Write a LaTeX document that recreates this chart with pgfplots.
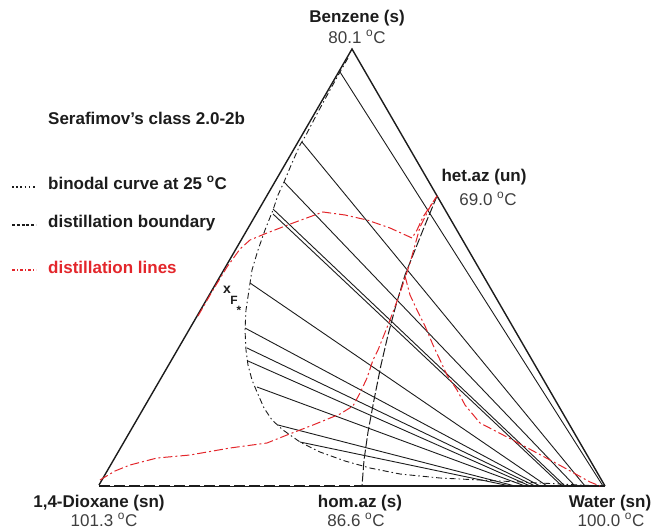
\documentclass[border=0pt]{standalone}
\usepackage{pgfplots}
\pgfplotsset{compat=1.18}
\usepackage{fontspec}
\setmainfont{Liberation Sans}
\definecolor{ink}{HTML}{1C1C1C}
\definecolor{dline}{HTML}{E3262B}
\tikzset{
  lab/.style={font=\fontsize{17}{20}\selectfont\bfseries, text=ink, inner sep=0pt},
  val/.style={font=\fontsize{17}{20}\selectfont, text=ink!85, inner sep=0pt},
  tie/.style={ink, line width=0.9pt},
  binodal/.style={ink, line width=0.9pt, dash pattern=on 6pt off 3pt on 1.5pt off 3pt},
  boundary/.style={ink, line width=1pt, dash pattern=on 9pt off 2.5pt},
  dist/.style={dline, line width=1pt, dash pattern=on 9pt off 3pt on 2pt off 3pt},
}
\begin{document}
\begin{tikzpicture}
\begin{axis}[
  width=653pt, height=530pt, scale only axis,
  xmin=0, xmax=653, ymin=0, ymax=530, y dir=reverse,
  hide axis, clip=false,
]
% keep the full frame as the page
\path (axis cs:0,0) rectangle (axis cs:653,530);

% triangle
\addplot[ink, line width=1.4pt] coordinates {(99,485) (352,49) (605,486)};
\addplot[ink, line width=1.2pt] coordinates {(362,486) (605,486)};
\addplot[ink, line width=0.8pt] coordinates {(99,486) (362,486)};
\addplot[ink, line width=2.4pt, dash pattern=on 11pt off 4pt] coordinates {(99,486) (362,486)};

% tie lines
\addplot[tie] coordinates {(340,72) (603,486)};
\addplot[tie] coordinates {(302,142) (585,486)};
\addplot[tie] coordinates {(284,182) (575,486)};
\addplot[tie] coordinates {(273,209) (565,486)};
\addplot[tie] coordinates {(273,214) (562,486)};
\addplot[tie] coordinates {(250,283) (547,486)};
\addplot[tie] coordinates {(245,328) (540,486)};
\addplot[tie] coordinates {(247,348) (535,486)};
\addplot[tie] coordinates {(248,361) (530,486)};
\addplot[tie] coordinates {(257,387) (525,486)};
\addplot[tie] coordinates {(278,425) (515,486)};
\addplot[tie] coordinates {(300,442) (510,486)};

% binodal curve
\addplot[binodal] coordinates {
 (348,58) (340,72) (330,90) (318,112) (306,135) (300,145) (292,163) (284,182)
 (278,195) (273,210) (265,230) (258,250) (252,270) (249,290) (246,310) (245,330)
 (246,350) (248,365) (252,380) (257,392) (264,408) (272,420) (283,430) (300,442)
 (320,452) (345,461) (370,468) (400,474) (440,478) (480,480) (520,482) (560,484) (600,486)};

% distillation boundary
\addplot[boundary] coordinates {
 (437,196) (425,225) (415,250) (405,275) (396,305) (388,335) (381,365)
 (374,400) (368,432) (364,460) (362,486)};

% distillation lines
\addplot[dist] coordinates {
 (100,480) (115,471) (130,465) (157,458) (190,455) (230,448) (267,443)
 (287,435) (313,425) (340,414) (353,406) (360,393) (367,378) (373,360)
 (378,350) (390,320) (400,293) (410,263) (420,227) (430,207) (437,196)};
\addplot[dist] coordinates {
 (198,316) (206,302) (213,290) (227,267) (240,249) (250,240) (267,233)
 (293,223) (323,212) (345,215) (367,220) (390,228) (412,238) (417,230)
 (423,217) (437,196)};
\addplot[dist] coordinates {
 (405,276) (410,295) (417,310) (425,326) (433,345) (440,360) (447,375)
 (457,390) (465,405) (480,423) (507,437) (537,453) (563,467) (590,482) (600,486)};

% legend samples
\addplot[ink, line width=1.6pt, dash pattern=on 1.6pt off 2.6pt] coordinates {(12,187) (36,187)};
\addplot[ink, line width=1.2pt, dash pattern=on 3pt off 1.8pt] coordinates {(12,225) (36,225)};
\addplot[dline, line width=1.2pt, dash pattern=on 3pt off 2pt on 1pt off 2pt] coordinates {(12,270) (36,270)};

% legend texts
\node[lab, anchor=west] at (axis cs:48,118) {Serafimov's class 2.0-2b};
\node[lab, anchor=west] at (axis cs:48,183) {binodal curve at 25 \textsuperscript{o}C};
\node[lab, anchor=west] at (axis cs:48,223) {distillation boundary};
\node[lab, anchor=west, text=dline] at (axis cs:48,267) {distillation lines};

% vertex labels
\node[lab] at (axis cs:357,18) {Benzene (s)};
\node[val] at (axis cs:357,37) {80.1 \textsuperscript{o}C};
\node[lab] at (axis cs:484,177) {het.az (un)};
\node[val] at (axis cs:488,199) {69.0 \textsuperscript{o}C};
\node[lab] at (axis cs:99,503) {1,4-Dioxane (sn)};
\node[val] at (axis cs:104,520) {101.3 \textsuperscript{o}C};
\node[lab] at (axis cs:360,503) {hom.az (s)};
\node[val] at (axis cs:356,520) {86.6 \textsuperscript{o}C};
\node[lab] at (axis cs:610,503) {Water (sn)};
\node[val] at (axis cs:611,520) {100.0 \textsuperscript{o}C};

% feed point label
\node[font=\fontsize{14}{16}\selectfont\bfseries, text=ink, inner sep=0pt] at (axis cs:227,290) {x};
\node[font=\fontsize{12}{14}\selectfont\bfseries, text=ink, inner sep=0pt] at (axis cs:234,300) {F};
\node[font=\fontsize{12}{14}\selectfont\bfseries, text=ink, inner sep=0pt] at (axis cs:239,310) {*};
\end{axis}
\end{tikzpicture}
\end{document}
